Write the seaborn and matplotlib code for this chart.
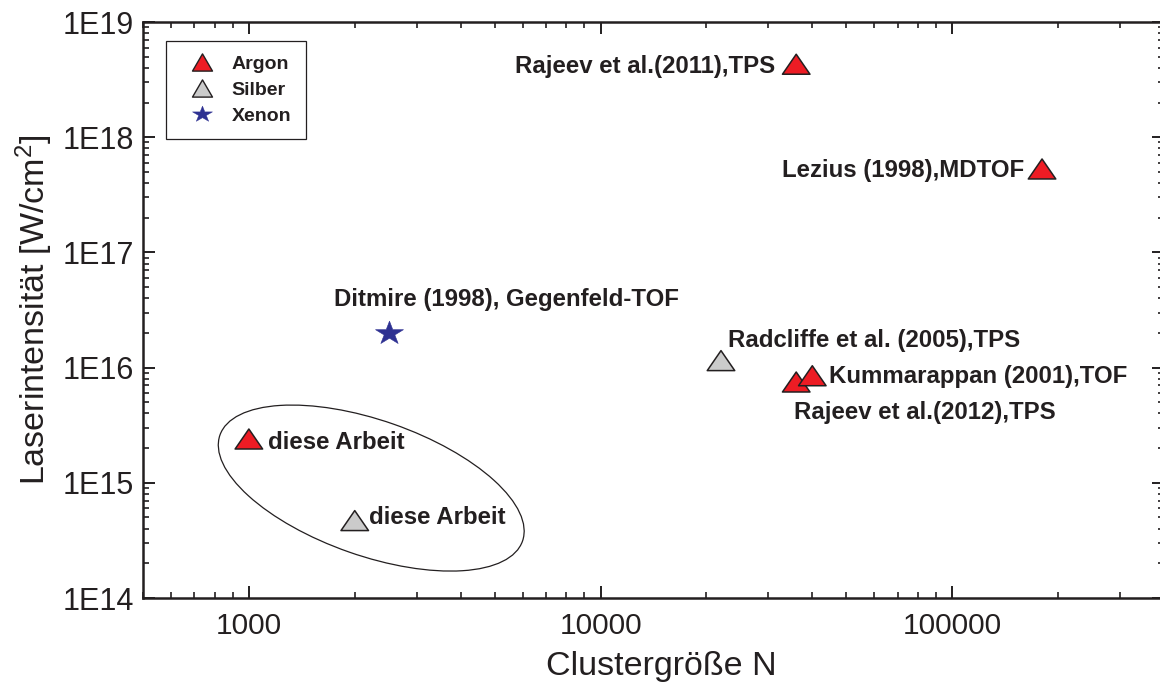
import matplotlib
matplotlib.use("Agg")
import numpy as np
import pandas as pd
import matplotlib.pyplot as plt
import seaborn as sns
from matplotlib.path import Path
from matplotlib.patches import Ellipse
from matplotlib.lines import Line2D
from matplotlib.transforms import ScaledTranslation
from matplotlib.ticker import FixedLocator, FixedFormatter, LogLocator, NullFormatter

# ---------------- data ----------------
labels = [
    "Rajeev et al.(2011),TPS",
    "Lezius (1998),MDTOF",
    "Ditmire (1998), Gegenfeld-TOF",
    "Radcliffe et al. (2005),TPS",
    "Rajeev et al.(2012),TPS",
    "Kummarappan (2001),TOF",
    "diese Arbeit",
    "diese Arbeit",
]
elements = ["Argon", "Argon", "Xenon", "Silber", "Argon", "Argon", "Argon", "Silber"]
cluster_size = [36000, 180000, 2500, 22000, 36000, 40000, 1000, 2000]
intensity = [4.3e18, 5.3e17, 2.0e16, 1.15e16, 7.5e15, 8.5e15, 2.4e15, 4.7e14]

element_order = ["Argon", "Silber", "Xenon"]
x_ticks = [1000, 10000, 100000]
x_tick_labels = ["1000", "10000", "100000"]
y_ticks = [1e14, 1e15, 1e16, 1e17, 1e18, 1e19]
y_tick_labels = ["1E14", "1E15", "1E16", "1E17", "1E18", "1E19"]
x_label = "Clustergröße N"
y_label = "Laserintensität [W/cm$^2$]"

# ---------------- style ----------------
sns.set_theme(style="ticks")
plt.rcParams["font.family"] = ["Liberation Sans", "DejaVu Sans"]
plt.rcParams["mathtext.fontset"] = "custom"
plt.rcParams["mathtext.rm"] = "Liberation Sans"
plt.rcParams["mathtext.it"] = "Liberation Sans"
plt.rcParams["mathtext.bf"] = "Liberation Sans:bold"
plt.rcParams["mathtext.default"] = "rm"

ink = "#231f20"
palette = {"Argon": "#ed1c24", "Silber": "#cbcbcb", "Xenon": "#2e3192"}


def triangle(h):
    return Path([(-1, -h), (1, -h), (0, h), (-1, -h)],
                [Path.MOVETO, Path.LINETO, Path.LINETO, Path.CLOSEPOLY])


def star(squash):
    base = Path.unit_regular_star(5, 0.381966)
    return Path(base.vertices * np.array([1.0, squash]), base.codes)


plot_markers = {"Argon": triangle(0.727), "Silber": triangle(0.727), "Xenon": star(0.84)}
legend_markers = {"Argon": triangle(0.86), "Silber": triangle(0.86), "Xenon": star(0.80)}

df = pd.DataFrame({"label": labels, "element": elements,
                   "N": cluster_size, "I": intensity})

fig = plt.figure(figsize=(11.6, 6.84), dpi=100)
ax = fig.add_axes([143 / 1160, 86 / 684, 1021 / 1160, 576 / 684])
ax.set_xscale("log")
ax.set_yscale("log")

tri = df[df["element"] != "Xenon"]
xe = df[df["element"] == "Xenon"]
sns.scatterplot(data=tri, x="N", y="I", hue="element", palette=palette,
                style="element", markers=plot_markers, s=392,
                edgecolor=ink, linewidth=1.1, legend=False, ax=ax, zorder=3)
sns.scatterplot(data=xe, x="N", y="I", hue="element", palette=palette,
                style="element", markers=plot_markers, s=406,
                edgecolor=palette["Xenon"], linewidth=0.4, legend=False, ax=ax, zorder=3)

# point labels: (ha, dx, dy) in pixels relative to each marker
label_layout = [
    ("right", -21, -9),
    ("right", -18, -8),
    ("left", -55, 27),
    ("left", 7, 14),
    ("left", -2, -37),
    ("left", 17, -7),
    ("left", 19, -10),
    ("left", 14, -3),
]
for (txt, n, inten), (ha, dx, dy) in zip(zip(labels, cluster_size, intensity), label_layout):
    ax.annotate(txt, xy=(n, inten), xytext=(dx, dy), textcoords="offset pixels",
                ha=ha, va="baseline", fontsize=17.3, fontweight="bold", color=ink,
                zorder=4)

# ellipse around the points of this work
ell_center = (2228, 9.0e14)
ell = Ellipse((0, 0), width=3.206, height=1.354, angle=-19.3, fill=False,
              edgecolor=ink, linewidth=0.9,
              transform=fig.dpi_scale_trans + ScaledTranslation(ell_center[0], ell_center[1], ax.transData))
ax.add_patch(ell)

# axes
ax.set_xlim(500, 400000)
ax.set_ylim(1e14, 1e19)
ax.xaxis.set_major_locator(FixedLocator(x_ticks))
ax.xaxis.set_major_formatter(FixedFormatter(x_tick_labels))
ax.yaxis.set_major_locator(FixedLocator(y_ticks))
ax.yaxis.set_major_formatter(FixedFormatter(y_tick_labels))
ax.xaxis.set_minor_locator(LogLocator(base=10, subs=np.arange(2, 10), numticks=20))
ax.yaxis.set_minor_locator(LogLocator(base=10, subs=np.arange(2, 10), numticks=20))
ax.xaxis.set_minor_formatter(NullFormatter())
ax.yaxis.set_minor_formatter(NullFormatter())

ax.tick_params(which="both", direction="in", top=True, right=True, color=ink,
               labelcolor=ink)
ax.tick_params(which="major", length=8.5, width=1.4)
ax.tick_params(which="minor", length=4.3, width=1.2)
ax.tick_params(axis="x", which="major", pad=10.2, labelsize=21.5)
ax.tick_params(axis="y", which="major", pad=6.6, labelsize=22)
for sp in ax.spines.values():
    sp.set_visible(True)
    sp.set_linewidth(1.8)
    sp.set_color(ink)

ax.set_xlabel(x_label, fontsize=24.5, color=ink, va="baseline")
ax.xaxis.set_label_coords(0.5073, -0.1337)
ax.set_ylabel(y_label, fontsize=24.5, color=ink, va="center")
ax.yaxis.set_label_coords(-0.1068, 0.5)

# legend
handles = [Line2D([], [], linestyle="none", marker=legend_markers[e],
                  markersize=14.4, markerfacecolor=palette[e],
                  markeredgecolor=ink if e != "Xenon" else palette[e],
                  markeredgewidth=1.0 if e != "Xenon" else 0.3)
           for e in element_order]
leg = ax.legend(handles, element_order, loc="upper left",
                bbox_to_anchor=((166 - 143) / 1021, (598 - 40.7) / 576),
                borderaxespad=0, frameon=True, fancybox=False, framealpha=1,
                edgecolor=ink, prop={"weight": "bold", "size": 14},
                borderpad=0.76, labelspacing=0.42, handlelength=2.16,
                handletextpad=0.45)
leg.get_frame().set_linewidth(0.9)
for t in leg.get_texts():
    t.set_color(ink)

fig.savefig("out.png", dpi=100)
